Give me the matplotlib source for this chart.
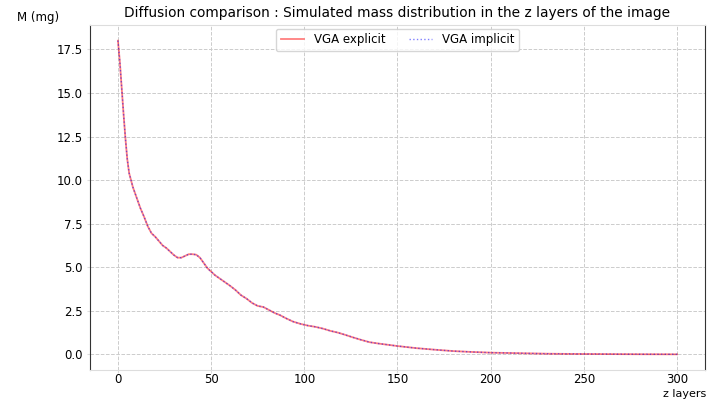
import matplotlib
matplotlib.use("Agg")
import matplotlib.pyplot as plt

z_layers = [0, 1, 2, 3, 4, 5, 6, 7, 8, 10, 12, 14, 16, 18, 20, 22, 24, 26, 28, 30,
            32, 34, 36, 38, 40, 42, 44, 46, 48, 50, 52, 54, 56, 58, 60, 63, 66, 69, 72, 75,
            78, 81, 84, 87, 90, 94, 98, 102, 106, 110, 114, 118, 122, 126, 130, 135, 140, 145, 150, 160,
            170, 180, 190, 200, 210, 220, 230, 240, 250, 260, 270, 280, 290, 300]
mass_explicit = [18.0, 16.8, 15.3, 13.8, 12.4, 11.2, 10.4, 10.0, 9.6, 9.0, 8.4, 7.9, 7.35, 6.95, 6.75, 6.5, 6.25, 6.1, 5.9, 5.7,
                 5.55, 5.55, 5.65, 5.75, 5.75, 5.72, 5.55, 5.25, 4.95, 4.75, 4.55, 4.4, 4.25, 4.1, 3.95, 3.7, 3.4, 3.2, 2.95, 2.78,
                 2.72, 2.55, 2.38, 2.25, 2.08, 1.88, 1.75, 1.65, 1.58, 1.48, 1.35, 1.25, 1.12, 0.98, 0.85, 0.7, 0.62, 0.55, 0.48, 0.36,
                 0.27, 0.19, 0.14, 0.1, 0.08, 0.06, 0.04, 0.03, 0.025, 0.02, 0.015, 0.01, 0.008, 0.005]
mass_implicit = [18.0, 16.8, 15.3, 13.8, 12.4, 11.2, 10.4, 10.0, 9.6, 9.0, 8.4, 7.9, 7.35, 6.95, 6.75, 6.5, 6.25, 6.1, 5.9, 5.7,
                 5.55, 5.55, 5.65, 5.75, 5.75, 5.72, 5.55, 5.25, 4.95, 4.75, 4.55, 4.4, 4.25, 4.1, 3.95, 3.7, 3.4, 3.2, 2.95, 2.78,
                 2.72, 2.55, 2.38, 2.25, 2.08, 1.88, 1.75, 1.65, 1.58, 1.48, 1.35, 1.25, 1.12, 0.98, 0.85, 0.7, 0.62, 0.55, 0.48, 0.36,
                 0.27, 0.19, 0.14, 0.1, 0.08, 0.06, 0.04, 0.03, 0.025, 0.02, 0.015, 0.01, 0.008, 0.005]

fig = plt.figure(figsize=(7.13, 3.99), dpi=100)
ax = fig.add_axes([90/713, 1-370/399, (705-90)/713, (370-25)/399])

ax.plot(z_layers, mass_explicit, color='red', alpha=0.5, lw=1.3, label='VGA explicit')
ax.plot(z_layers, mass_implicit, color='blue', alpha=0.5, lw=1.0, ls=':', label='VGA implicit')

ax.grid(True, ls='--', color='#cccccc', lw=0.7)
ax.set_axisbelow(True)
for s in ['top', 'bottom']:
    ax.spines[s].set_color('#dddddd')
for s in ['left', 'right']:
    ax.spines[s].set_color('#333333')
ax.tick_params(colors='#dddddd', labelcolor='black', labelsize=8.5, length=2)
ax.tick_params(axis='x', pad=0.5)
ax.set_xticks([0, 50, 100, 150, 200, 250, 300])

ax.set_title('Diffusion comparison : Simulated mass distribution in the z layers of the image', fontsize=9.9, pad=6)
fig.text(706/713, 0.2/399, 'z layers', ha='right', va='bottom', fontsize=8)
fig.text(38/713, 1-18/399, 'M (mg)', ha='center', va='center', fontsize=8.5)
ax.legend(loc='upper center', ncol=2, fontsize=8.5, bbox_to_anchor=(0.5, 1.0), borderaxespad=0.3)

fig.savefig('out.png', dpi=100)
